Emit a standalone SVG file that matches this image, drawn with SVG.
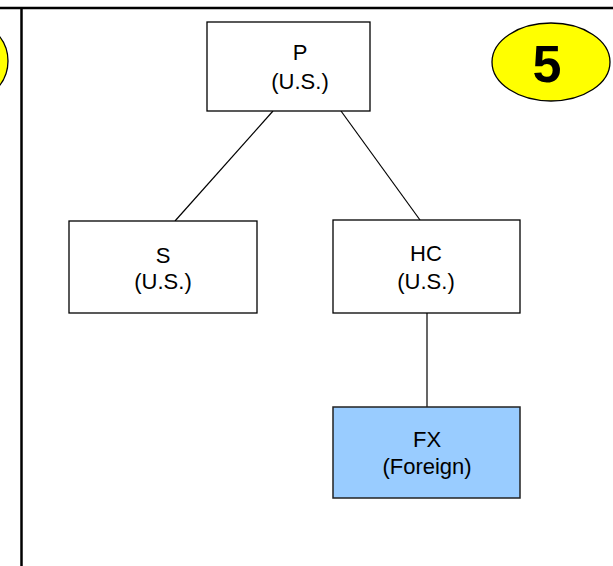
<svg xmlns="http://www.w3.org/2000/svg" width="613" height="566" viewBox="0 0 613 566">
<style>
.box{fill:#fff;stroke:#000;stroke-width:1.3}
.fx{fill:#99ccff;stroke:#222;stroke-width:1.5}
.t{font-family:"Liberation Sans",Arial,sans-serif;font-size:22px;fill:#000;text-anchor:middle}
.c{stroke:#000;stroke-width:1.2;fill:none}
.frame{stroke:#000;stroke-width:2.5;fill:none}
</style>
<rect width="613" height="566" fill="#fff"/>
<g id="frame">
<line class="frame" x1="0" y1="8" x2="613" y2="8"/>
<line class="frame" x1="21.5" y1="8" x2="21.5" y2="566"/>
</g>
<g id="badge-left">
<ellipse cx="-32" cy="61" rx="40" ry="40" fill="#ffff00" stroke="#000" stroke-width="1.3"/>
</g>
<g id="badge-5">
<ellipse cx="551" cy="62" rx="59" ry="39" fill="#ffff00" stroke="#000" stroke-width="1.3"/>
<text x="547" y="82" font-family="Liberation Sans,Arial,sans-serif" font-size="52" font-weight="bold" text-anchor="middle">5</text>
</g>
<g id="connectors">
<line class="c" x1="273" y1="111" x2="175" y2="221"/>
<line class="c" x1="341" y1="111" x2="420" y2="220"/>
<line class="c" x1="427" y1="313" x2="427" y2="407"/>
</g>
<g id="node-P">
<rect class="box" x="207" y="22" width="163" height="89"/>
<text class="t" x="300" y="60">P</text>
<text class="t" x="300" y="89">(U.S.)</text>
</g>
<g id="node-S">
<rect class="box" x="69" y="221" width="188" height="92"/>
<text class="t" x="163" y="263">S</text>
<text class="t" x="163" y="289">(U.S.)</text>
</g>
<g id="node-HC">
<rect class="box" x="333" y="220" width="187" height="93"/>
<text class="t" x="426" y="261">HC</text>
<text class="t" x="426" y="289">(U.S.)</text>
</g>
<g id="node-FX">
<rect class="fx" x="333" y="407" width="187" height="91"/>
<text class="t" x="427" y="447">FX</text>
<text class="t" x="427" y="474">(Foreign)</text>
</g>
</svg>
